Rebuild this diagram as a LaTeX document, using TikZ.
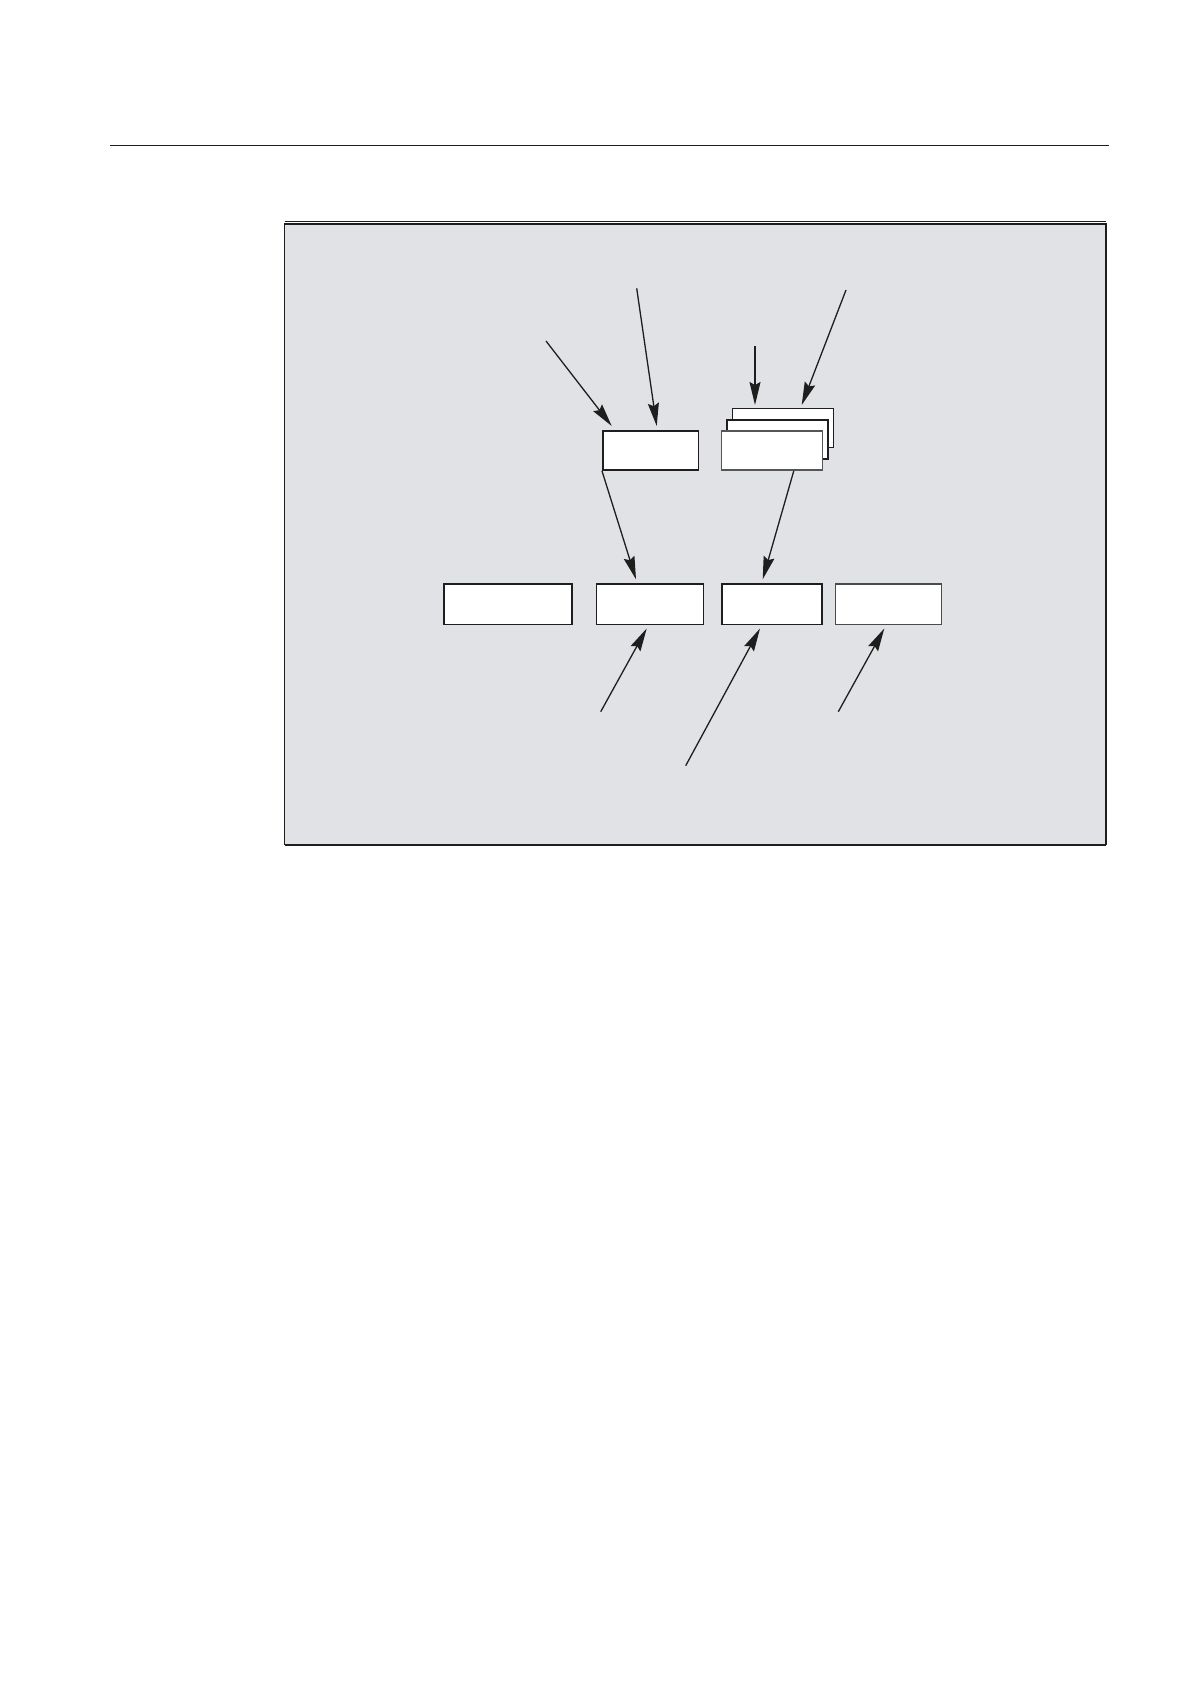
\documentclass[tikz,border=0pt]{standalone}
\usepackage{tikz}
\usetikzlibrary{arrows.meta}
\definecolor{panel}{HTML}{E1E2E5}
\definecolor{ink}{HTML}{1E1E1E}
\begin{document}
\begin{tikzpicture}[
                x=1pt, y=-1pt,
                box/.style={draw=ink, fill=white, line width=1.6pt, inner sep=0pt, minimum height=39pt},
                arr/.style={draw=ink, line width=1.3pt, -{Stealth[length=23pt, width=11pt, inset=3pt]}} ]

            \useasboundingbox (0,0) rectangle (1190,1684);

            \draw[ink, line width=1pt] (110,145.3) -- (1109,145.3);

            \filldraw[draw=ink, fill=panel, line width=1.4pt]
            (284.7,224) rectangle (1106,844.7);
            \draw[ink, line width=0.9pt] (284.7,221.4) -- (1106,221.4);
            \draw[ink, line width=1.6pt] (284.7,845) -- (1106,845);

            \node[box, minimum width=95.6pt] (A) at (650.5,450.4) {};
            \foreach \i/\dx/\dy in {3/11.2/-22.4, 2/5.6/-11.2} {
                    \node[box, minimum width=101pt] (S\i) at (771.8+\dx,450.5+\dy) {};
                }
            \node[box, draw=ink!75, minimum width=101pt] (S) at (771.8,450.5) {};

            \node[box, minimum width=128.4pt, minimum height=40.3pt] (L1) at (508,604.3) {};
            \node[box, minimum width=106.7pt, minimum height=40.3pt] (L2) at (650,604.3) {};
            \node[box, minimum width=100.5pt, minimum height=40.3pt] (L3) at (772,604.3) {};
            \node[box, draw=ink!80, minimum width=106.1pt, minimum height=40.3pt] (L4) at (888.4,604.3) {};

            \coordinate (P1) at (546,341);
            \coordinate (T1) at (611.7,426);
            \coordinate (P2) at (636.7,288.3);
            \coordinate (T2) at (656.7,426);
            \coordinate (P3) at (755,346);
            \coordinate (T3) at (755,405);
            \coordinate (P4) at (846,290);
            \coordinate (T4) at (801.7,405);
            \coordinate (T5) at (636,579.3);
            \coordinate (T6) at (762.7,579.3);
            \coordinate (P7) at (600.7,711.7);
            \coordinate (T7) at (646.7,628.5);
            \coordinate (P8) at (685.7,765.7);
            \coordinate (T8) at (760,628.5);
            \coordinate (P9) at (838.3,711.7);
            \coordinate (T9) at (884.3,628.5);

            \foreach \k in {1,2,3,4,7,8,9} {
                    \draw[arr] (P\k) -- (T\k);
                }
            \draw[arr] (A.south west) -- (T5);
            \draw[arr] ([xshift=22pt]S.south) -- (T6);
        \end{tikzpicture}
\end{document}
